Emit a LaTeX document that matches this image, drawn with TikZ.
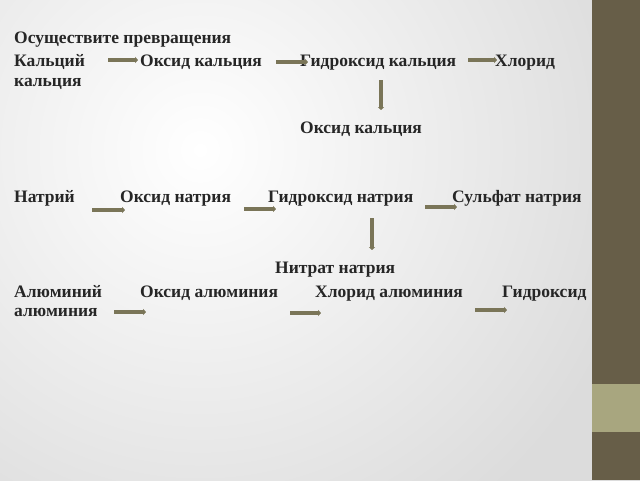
\documentclass[tikz,border=0pt]{standalone}
\usepackage{fontspec}
\setmainfont{Liberation Serif}
\usetikzlibrary{arrows.meta}
\definecolor{bar}{HTML}{675E48}
\definecolor{band}{HTML}{A8A67F}
\definecolor{arr}{HTML}{7A7558}
\definecolor{bg}{HTML}{DCDCDC}
\definecolor{txt}{HTML}{262626}
\begin{document}
\begin{tikzpicture}[x=1pt,y=-1pt,
  t/.style={anchor=base west,inner sep=0pt,font=\bfseries\fontsize{17.5}{19}\selectfont,text=txt},
  ar/.style={draw=arr,line width=3.5pt,-{Triangle[length=3pt,width=6pt]}}]
\useasboundingbox (0,0) rectangle (640,480);
\shade[inner color=white,outer color=bg] (-250,-300) rectangle (650,600);
\fill[bar] (592,0) rectangle (640,480);
\fill[band] (592,384) rectangle (640,432);
\node[t] (h) at (14,43) {Осуществите превращения};
\node[t] (c1) at (14,66) {Кальций};
\node[t] (c2) at (140,66) {Оксид кальция};
\node[t] (c3) at (300,66) {Гидроксид кальция};
\node[t] (c4) at (495,66) {Хлорид};
\node[t] (c4b) at (14,86) {кальция};
\node[t] (c5) at (300,133) {Оксид кальция};
\coordinate (a1s) at (108,60); \coordinate (a1e) at (138,60);
\coordinate (a2s) at (276,62); \coordinate (a2e) at (308,62);
\coordinate (a3s) at (468,60); \coordinate (a3e) at (497,60);
\coordinate (a4s) at (381,80); \coordinate (a4e) at (381,110);
\draw[ar] (a1s) -- (a1e); \draw[ar] (a2s) -- (a2e); \draw[ar] (a3s) -- (a3e); \draw[ar] (a4s) -- (a4e);
\node[t] (n1) at (14,202) {Натрий};
\node[t] (n2) at (120,202) {Оксид натрия};
\node[t] (n3) at (268,202) {Гидроксид натрия};
\node[t] (n4) at (452,202) {Сульфат натрия};
\node[t] (n5) at (275,273) {Нитрат натрия};
\coordinate (b1s) at (92,210); \coordinate (b1e) at (125,210);
\coordinate (b2s) at (244,209); \coordinate (b2e) at (276,209);
\coordinate (b3s) at (425,207); \coordinate (b3e) at (457,207);
\coordinate (b4s) at (372,218); \coordinate (b4e) at (372,250);
\draw[ar] (b1s) -- (b1e); \draw[ar] (b2s) -- (b2e); \draw[ar] (b3s) -- (b3e); \draw[ar] (b4s) -- (b4e);
\node[t] (l1) at (14,297) {Алюминий};
\node[t] (l2) at (140,297) {Оксид алюминия};
\node[t] (l3) at (315,297) {Хлорид алюминия};
\node[t] (l4) at (502,297) {Гидроксид};
\node[t] (l4b) at (14,316) {алюминия};
\coordinate (d1s) at (114,312); \coordinate (d1e) at (146,312);
\coordinate (d2s) at (290,313); \coordinate (d2e) at (321,313);
\coordinate (d3s) at (475,310); \coordinate (d3e) at (507,310);
\draw[ar] (d1s) -- (d1e); \draw[ar] (d2s) -- (d2e); \draw[ar] (d3s) -- (d3e);
\end{tikzpicture}
\end{document}
